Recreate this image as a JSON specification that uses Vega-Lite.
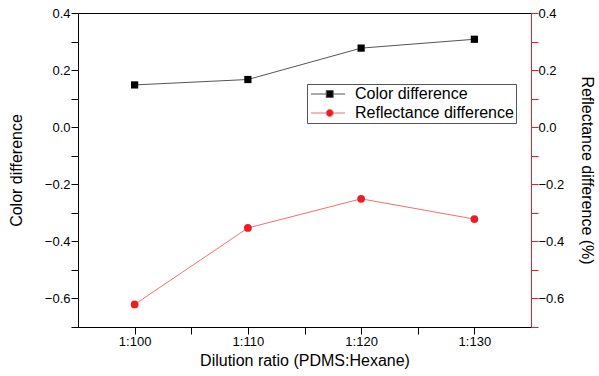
{
  "$schema": "https://vega.github.io/schema/vega-lite/v6.json",
  "width": 453,
  "height": 314,
  "autosize": "none",
  "padding": {"left": 78, "top": 13, "right": 68, "bottom": 49},
  "config": {
    "font": "Liberation Sans",
    "view": {"stroke": "black", "strokeWidth": 1},
    "axis": {
      "grid": false,
      "domainColor": "black",
      "domainWidth": 1,
      "tickColor": "black",
      "tickWidth": 1,
      "labelFont": "Liberation Sans",
      "labelFontSize": 13,
      "labelColor": "black",
      "titleFont": "Liberation Sans",
      "titleFontSize": 16,
      "titleFontWeight": "normal",
      "titleColor": "black"
    }
  },
  "data": {
    "values": [
      {"ratio": 100, "series": "Color difference", "value": 0.148},
      {"ratio": 110, "series": "Color difference", "value": 0.167},
      {"ratio": 120, "series": "Color difference", "value": 0.277},
      {"ratio": 130, "series": "Color difference", "value": 0.308},
      {"ratio": 100, "series": "Reflectance difference", "value": -0.621},
      {"ratio": 110, "series": "Reflectance difference", "value": -0.353},
      {"ratio": 120, "series": "Reflectance difference", "value": -0.251},
      {"ratio": 130, "series": "Reflectance difference", "value": -0.322}
    ]
  },
  "encoding": {
    "x": {
      "field": "ratio",
      "type": "quantitative",
      "scale": {"domain": [95, 135], "nice": false, "zero": false},
      "axis": {
        "title": "Dilution ratio (PDMS:Hexane)",
        "values": [100, 105, 110, 115, 120, 125, 130],
        "labelExpr": "datum.value % 10 ? '' : '1:' + datum.value",
        "ticks": true,
        "tickSize": 7,
        "labelPadding": 1,
        "titlePadding": 4,
        "encode": {"ticks": {"update": {"y2": {"signal": "datum.value % 10 ? -4 : -7"}}}}
      }
    }
  },
  "layer": [
    {
      "transform": [{"filter": "datum.series === 'Color difference'"}],
      "encoding": {
        "y": {
          "field": "value",
          "type": "quantitative",
          "scale": {"domain": [-0.7, 0.4], "nice": false, "zero": false},
          "axis": {
            "orient": "left",
            "title": "Color difference",
            "values": [-0.7, -0.6, -0.5, -0.4, -0.3, -0.2, -0.1, 0, 0.1, 0.2, 0.3, 0.4],
            "labelExpr": "round(abs(datum.value * 10)) % 2 ? '' : format(datum.value, '.1f')",
            "ticks": true,
            "tickSize": 7,
            "labelPadding": 1,
            "titlePadding": 20,
            "encode": {"ticks": {"update": {"x2": {"signal": "round(abs(datum.value * 10)) % 2 ? 4 : 7"}}}}
          }
        }
      },
      "layer": [
        {"mark": {"type": "line", "color": "#555555", "strokeWidth": 1}, "encoding": {}},
        {"mark": {"type": "point", "filled": true, "opacity": 1, "size": 52, "shape": "square", "color": "#000000"}, "encoding": {}},
        {
          "transform": [{"filter": "false"}],
          "mark": {"type": "point", "filled": true, "opacity": 1, "size": 144, "strokeWidth": 1},
          "encoding": {
            "fill": {
              "field": "series",
              "type": "nominal",
              "scale": {"domain": ["Color difference", "Reflectance difference"], "range": ["#000000", "#ee1d23"]},
              "legend": {
                "title": null,
                "orient": "none",
                "legendX": 229,
                "legendY": 71,
                "strokeColor": "#555555",
                "fillColor": "white",
                "padding": 2,
                "labelFontSize": 16,
                "labelFont": "Liberation Sans",
                "labelColor": "black",
                "labelOffset": 30,
                "rowPadding": 3,
                "symbolSize": 144,
                "symbolStrokeWidth": 1,
                "symbolOpacity": 1
              }
            },
            "stroke": {
              "field": "series",
              "type": "nominal",
              "scale": {"domain": ["Color difference", "Reflectance difference"], "range": ["#555555", "#f07070"]}
            },
            "shape": {
              "field": "series",
              "type": "nominal",
              "scale": {
                "domain": ["Color difference", "Reflectance difference"],
                "range": [
                  "M-1,0H1.54M1.54,-0.58H2.7V0.58H1.54ZM2.7,0H4.67",
                  "M-1,0H1.52M1.52,0A0.6,0.6 0 1,1 2.72,0A0.6,0.6 0 1,1 1.52,0ZM2.72,0H4.67"
                ]
              }
            }
          }
        }
      ]
    },
    {
      "transform": [{"filter": "datum.series === 'Reflectance difference'"}],
      "encoding": {
        "y": {
          "field": "value",
          "type": "quantitative",
          "scale": {"domain": [-0.7, 0.4], "nice": false, "zero": false},
          "axis": {
            "orient": "right",
            "title": "Reflectance difference (%)",
            "values": [-0.7, -0.6, -0.5, -0.4, -0.3, -0.2, -0.1, 0, 0.1, 0.2, 0.3, 0.4],
            "labelExpr": "round(abs(datum.value * 10)) % 2 ? '' : format(datum.value, '.1f')",
            "ticks": true,
            "tickSize": 7,
            "labelPadding": 0,
            "titlePadding": 15,
            "domainColor": "#ee1d23",
            "tickColor": "#ee1d23",
            "encode": {"ticks": {"update": {"x2": {"signal": "round(abs(datum.value * 10)) % 2 ? -4 : -7"}}}}
          }
        }
      },
      "layer": [
        {"mark": {"type": "line", "color": "#f07070", "strokeWidth": 1}, "encoding": {}},
        {"mark": {"type": "point", "filled": true, "opacity": 1, "size": 60, "shape": "circle", "color": "#ee1d23"}, "encoding": {}}
      ]
    }
  ],
  "resolve": {"scale": {"y": "independent"}}
}
